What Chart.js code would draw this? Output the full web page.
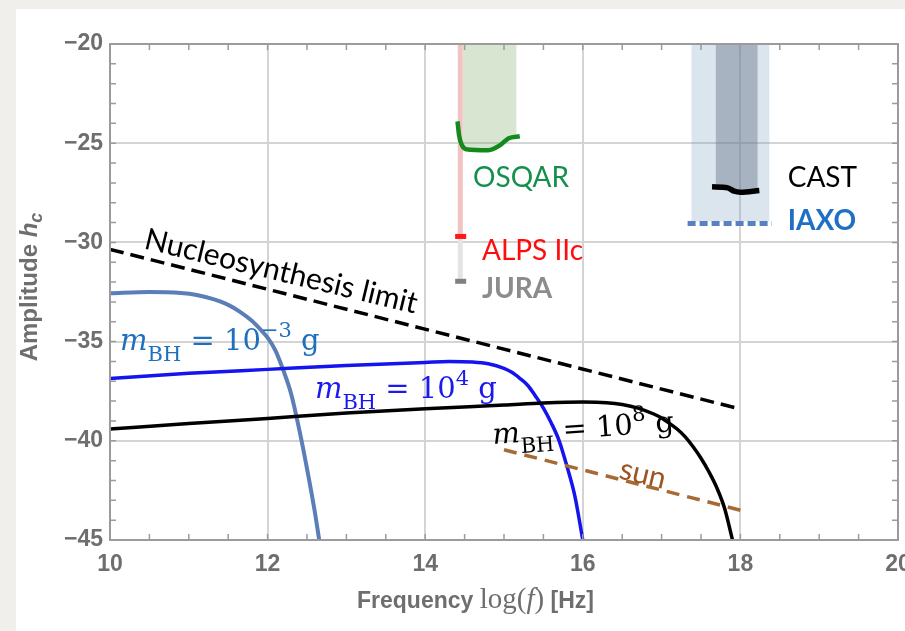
<!DOCTYPE html>
<html lang="en">
  <head>
    <meta charset="UTF-8" />
    <title>Amplitude h_c vs frequency</title>
    <script src="https://cdn.jsdelivr.net/npm/chart.js@4"></script>
    <style>
      html, body { margin: 0; padding: 0; width: 905px; height: 631px; overflow: hidden; background: #f1efeb; }
      .panel { position: absolute; left: 16px; top: 9px; right: 0; bottom: 0; background: #fff; }
      .wrap { position: absolute; left: 0; top: 0; width: 930px; height: 631px; }
    </style>
  </head>
  <body>
    <div class="panel"></div>
    <div class="wrap"><canvas id="chart"></canvas></div>
    <script>
      // ---- values (x = log f, y = log h_c) ----
      const bh3X = [10, 10.5, 10.9, 11.1, 11.3, 11.5, 11.65, 11.8, 11.9, 12.0, 12.1, 12.2, 12.3, 12.4, 12.5, 12.6, 12.655];
      const bh3Y = [-32.56, -32.5, -32.55, -32.65, -32.85, -33.15, -33.5, -33.95, -34.35, -34.8, -35.45, -36.45, -37.65, -39.4, -41.4, -43.6, -45];

      const bh4X = [10, 11, 12, 13, 14, 14.3, 14.6, 14.8, 15.0, 15.1, 15.2, 15.3, 15.4, 15.5, 15.6, 15.7, 15.8, 15.9, 16.0];
      const bh4Y = [-36.86, -36.6, -36.4, -36.2, -36.05, -36.0, -36.03, -36.12, -36.35, -36.55, -36.85, -37.2, -37.75, -38.35, -39.1, -40.0, -41.3, -42.8, -45];

      const bh8X = [10, 11, 12, 13, 14, 15, 15.5, 16, 16.3, 16.5, 16.7, 16.9, 17.0, 17.1, 17.2, 17.3, 17.4, 17.5, 17.6, 17.7, 17.8, 17.9];
      const bh8Y = [-39.41, -39.13, -38.87, -38.6, -38.38, -38.2, -38.1, -38.05, -38.08, -38.17, -38.35, -38.65, -38.85, -39.12, -39.42, -39.8, -40.3, -40.88, -41.56, -42.36, -43.41, -45];

      const nucleoX = [10, 18];
      const nucleoY = [-30.35, -38.4];

      const sunX = [15, 18];
      const sunY = [-40.45, -43.5];

      const osqarX = [14.41, 14.43, 14.46, 14.52, 14.8, 14.95, 15.06, 15.2];
      const osqarY = [-23.9, -24.6, -25.05, -25.3, -25.35, -25.1, -24.75, -24.65];
      const osqarFillX = [14.48, 14.8, 14.95, 15.06, 15.16];
      const osqarFillY = [-25.25, -25.3, -25.1, -24.75, -24.7];

      const alpsLineX = [14.445, 14.445];
      const alpsLineY = [-20, -29.7];
      const juraLineY = [-29.7, -31.96];
      const alpsMarkX = [14.38, 14.52];
      const alpsMarkY = [-29.7, -29.7];
      const juraMarkY = [-31.96, -31.96];

      const iaxoBandX = [17.377, 18.37];
      const iaxoBandY = [-28.95, -28.95];
      const castBandX = [17.685, 18.22];
      const castBandY = [-27.35, -27.35];
      const castX = [17.64, 17.84, 17.92, 18.0, 18.24];
      const castY = [-27.2, -27.25, -27.42, -27.47, -27.38];
      const iaxoX = [17.33, 18.4];
      const iaxoY = [-29.05, -29.05];

      const xMajor = [10, 12, 14, 16, 18, 20];
      const yMajor = [-45, -40, -35, -30, -25, -20];

      function pts(xs, ys) {
        return xs.map((x, i) => ({ x: x, y: ys[i] }));
      }

      function line(xs, ys, color, width, extra) {
        return Object.assign({
          data: pts(xs, ys),
          showLine: true,
          borderColor: color,
          borderWidth: width,
          pointRadius: 0,
          fill: false,
        }, extra || {});
      }

      function band(xs, ys, color, order) {
        return line(xs, ys, 'rgba(0,0,0,0)', 0, { fill: 'end', backgroundColor: color, order: order });
      }

      const smooth = { cubicInterpolationMode: 'monotone' };

      const datasets = [
        band(iaxoBandX, iaxoBandY, 'rgba(120,160,190,0.27)', 20),
        band(castBandX, castBandY, 'rgba(100,110,135,0.42)', 19),
        band(osqarFillX, osqarFillY, 'rgba(110,160,90,0.28)', 18),
        line(alpsLineX, alpsLineY, '#f3c2c2', 5, { order: 17 }),
        line(alpsLineX, juraLineY, '#e4e4e4', 5, { order: 16 }),
        line(bh3X, bh3Y, '#5b7db8', 4, Object.assign({ order: 10 }, smooth)),
        line(bh4X, bh4Y, '#1414ee', 3.5, Object.assign({ order: 9 }, smooth)),
        line(bh8X, bh8Y, '#000000', 3.5, Object.assign({ order: 8 }, smooth)),
        line(nucleoX, nucleoY, '#000000', 3.5, { borderDash: [14, 7], order: 7 }),
        line(sunX, sunY, '#a86a35', 3.5, { borderDash: [13, 8], order: 6 }),
        line(alpsMarkX, alpsMarkY, '#ff1a1a', 5, { order: 5 }),
        line(alpsMarkX, juraMarkY, '#808080', 5, { order: 4 }),
        line(osqarX, osqarY, '#138a1c', 4.5, Object.assign({ order: 3 }, smooth)),
        line(castX, castY, '#000000', 5.5, Object.assign({ order: 2 }, smooth)),
        line(iaxoX, iaxoY, '#5a7fc2', 5, { borderDash: [8, 4], order: 1 }),
      ];

      // draw a row of text pieces (font, baseline offset) from a start point
      function drawRuns(ctx, runs, x, y, angle, color) {
        ctx.save();
        ctx.translate(x, y);
        ctx.rotate(angle * Math.PI / 180);
        ctx.fillStyle = color;
        ctx.textBaseline = 'alphabetic';
        ctx.textAlign = 'left';
        let cx = 0;
        for (const r of runs) {
          ctx.font = r[1];
          ctx.fillText(r[0], cx, r[2] || 0);
          cx += ctx.measureText(r[0]).width;
        }
        ctx.restore();
      }

      function runsWidth(ctx, runs) {
        let w = 0;
        for (const r of runs) { ctx.font = r[1]; w += ctx.measureText(r[0]).width; }
        return w;
      }

      const serif = '"DejaVu Serif"';
      function massLabel(exp) {
        return [
          ['m', 'italic 29px ' + serif, 0],
          ['BH', '21px ' + serif, 11],
          [' = 10', '29px ' + serif, 0],
          [exp, '21px ' + serif, -13],
          [' g', '29px ' + serif, 0],
        ];
      }

      const decor = {
        id: 'decor',
        afterDraw(chart) {
          const ctx = chart.ctx;
          const a = chart.chartArea;
          const sx = chart.scales.x, sy = chart.scales.y;

          // frame and minor ticks
          ctx.save();
          ctx.strokeStyle = '#9b9b9b';
          ctx.lineWidth = 1.5;
          ctx.beginPath();
          sx.ticks.forEach((t) => {
            const p = sx.getPixelForValue(t.value);
            ctx.moveTo(p, a.bottom); ctx.lineTo(p, a.bottom - 6);
            ctx.moveTo(p, a.top); ctx.lineTo(p, a.top + 6);
          });
          sy.ticks.forEach((t) => {
            const p = sy.getPixelForValue(t.value);
            ctx.moveTo(a.left, p); ctx.lineTo(a.left + 6, p);
            ctx.moveTo(a.right, p); ctx.lineTo(a.right - 6, p);
          });
          ctx.stroke();
          ctx.lineWidth = 2;
          ctx.strokeRect(a.left, a.top, a.right - a.left, a.bottom - a.top);
          ctx.restore();

          const at = (x, y, runs, angle, color) =>
            drawRuns(ctx, runs, sx.getPixelForValue(x), sy.getPixelForValue(y), angle, color);

          at(14.607, -27.23, [['OSQAR', '28px Lato']], 0, '#148f4c');
          at(14.72, -30.9, [['ALPS IIc', '28px Lato']], 0, '#ff0d0d');
          at(14.72, -32.82, [['JURA', 'bold 28px Lato']], 0, '#8c8c8c');
          at(18.6, -27.23, [['CAST', '28px Lato']], 0, '#000000');
          at(18.6, -29.39, [['IAXO', 'bold 28px Lato']], 0, '#1f70c4');
          at(10.419, -30.3, [['Nucleosynthesis limit', '30px Lato']], 13.5, '#000000');
          at(16.447, -41.88, [['sun', '30px Lato']], 13.5, '#9c5520');

          at(10.127, -35.43, massLabel('\u22123'), 0, '#1f6fbf');
          at(12.6, -37.85, massLabel('4'), 0, '#1a1aee');
          at(14.86, -40.16, massLabel('8'), -4, '#000000');

          // axis titles
          const sans = '"Liberation Sans"';
          const tSerif = '"Liberation Serif"';
          const grey = '#6e6e6e';
          drawRuns(ctx, [
            ['Frequency ', 'bold 23px ' + sans],
            ['log(', '29px ' + tSerif],
            ['f', 'italic 29px ' + tSerif],
            [')', '29px ' + tSerif],
            [' [Hz]', 'bold 23px ' + sans],
          ], 357, 608, 0, grey);

          const yRuns = [
            ['Amplitude ', 'bold 24px ' + sans],
            ['h', 'bold italic 24px ' + sans],
            ['c', 'bold italic 18px ' + sans, 5],
          ];
          const w = runsWidth(ctx, yRuns);
          ctx.save();
          ctx.translate(37, 287);
          ctx.rotate(-Math.PI / 2);
          drawRuns(ctx, yRuns, -w / 2, 0, 0, grey);
          ctx.restore();
        },
      };

      const tickFont = { family: 'Liberation Sans', weight: 'bold', size: 23 };

      new Chart(document.getElementById('chart'), {
        type: 'scatter',
        data: { datasets: datasets },
        options: {
          responsive: true,
          maintainAspectRatio: false,
          animation: false,
          layout: { padding: { top: 44, right: 32, bottom: 0, left: 0 } },
          plugins: { legend: { display: false }, tooltip: { enabled: false } },
          scales: {
            x: {
              type: 'linear',
              min: 10,
              max: 20,
              afterFit: (s) => { s.height = 91; },
              border: { display: false },
              grid: {
                drawTicks: false,
                lineWidth: 2,
                color: (c) => (c.tick && xMajor.includes(c.tick.value) ? '#d4d4d4' : 'rgba(0,0,0,0)'),
              },
              ticks: {
                stepSize: 0.5,
                maxTicksLimit: 100,
                autoSkip: false,
                maxRotation: 0,
                padding: 11,
                color: '#6e6e6e',
                font: tickFont,
                callback: (v) => (xMajor.includes(v) ? String(v) : ''),
              },
            },
            y: {
              type: 'linear',
              min: -45,
              max: -20,
              afterFit: (s) => { s.width = 110; },
              border: { display: false },
              grid: {
                drawTicks: false,
                lineWidth: 2,
                color: (c) => (c.tick && yMajor.includes(c.tick.value) ? '#d4d4d4' : 'rgba(0,0,0,0)'),
              },
              ticks: {
                stepSize: 1,
                maxTicksLimit: 100,
                autoSkip: false,
                padding: 7,
                color: '#6e6e6e',
                font: tickFont,
                callback: (v) => (yMajor.includes(v) ? String(v).replace('-', '\u2212') : ''),
              },
            },
          },
        },
        plugins: [decor],
      });
    </script>
  </body>
</html>
